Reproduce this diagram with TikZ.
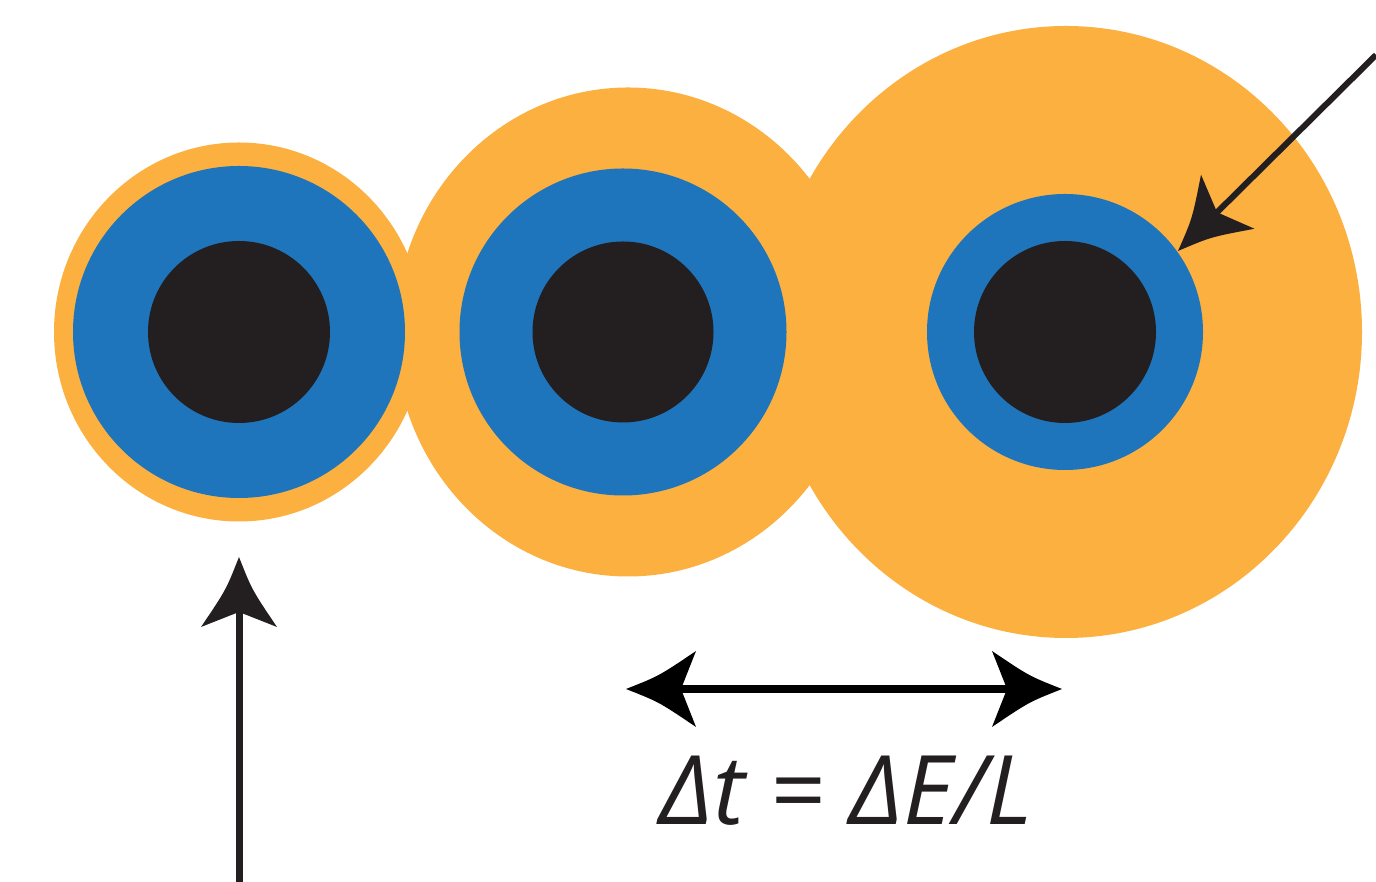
\documentclass[tikz,border=0pt]{standalone}
\usepackage{fontspec}
\newfontfamily\labelfont{Open Sans}
\definecolor{orng}{HTML}{FBB040}
\definecolor{blu}{HTML}{1F75BB}
\definecolor{ink}{HTML}{231F20}
\tikzset{
  ahead/.pic={\fill[pic actions] (0,0) .. controls (-33,13) .. (-70,38) -- (-55,0) -- (-70,-38) .. controls (-33,-13) .. (0,0) -- cycle;},
  shell/.style={fill=orng},
  mantle/.style={fill=blu},
  core/.style={fill=ink},
  conn/.style={line width=#1, line cap=butt}
}
\begin{document}
\begin{tikzpicture}[x=1pt,y=1pt]
\useasboundingbox (0,0) rectangle (1376,882);
% orange envelopes
\fill[shell] (239,550) ellipse [x radius=185, y radius=189.5];
\fill[shell] (628,550) ellipse [x radius=233, y radius=244.5];
\fill[shell] (1066,550) ellipse [x radius=296, y radius=306];
% blue layers
\fill[mantle] (239,550) circle [radius=166];
\fill[mantle] (623,550) circle [radius=163.5];
\fill[mantle] (1065,550) circle [radius=138];
% cores
\fill[core] (239,550) circle [radius=91];
\fill[core] (623,550) circle [radius=90.5];
\fill[core] (1065,550) circle [radius=91];
% coordinates
\coordinate (vstart) at (239,0);
\coordinate (vtip) at (239,325);
\coordinate (dstart) at (1376,827);
\coordinate (dtip) at (1178,631);
\coordinate (hl) at (626,193);
\coordinate (hr) at (1062,193);
% connectors
\draw[ink, conn=7pt, shorten >=45pt] (vstart) -- (vtip);
\pic[fill=ink, rotate=90] at (vtip) {ahead};
\draw[ink, conn=6pt, shorten >=45pt] (dstart) -- (dtip);
\pic[fill=ink, rotate=224.7] at (dtip) {ahead};
\draw[black, conn=8pt, shorten >=45pt, shorten <=45pt] (hl) -- (hr);
\pic[fill=black, rotate=180] at (hl) {ahead};
\pic[fill=black] at (hr) {ahead};
% label
\node[anchor=base, inner sep=0, text=ink, font=\labelfont\itshape\fontsize{96}{100}\selectfont] (lbl) at (846,57) {Δt = ΔE/L};
\end{tikzpicture}
\end{document}
